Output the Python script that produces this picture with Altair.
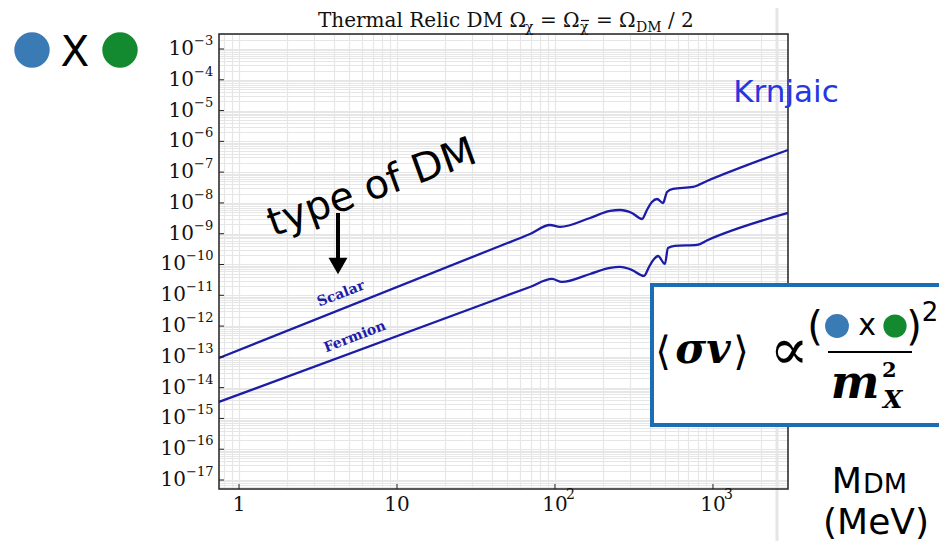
import altair as alt
import pandas as pd

# ---------------- data ----------------
scalar_mass = [0.747, 44.9, 69.5, 93.0, 107.6, 166.6, 222.8, 257.8, 306.9, 355.6,
               382.0, 411.0, 442.6, 483.0, 512.0, 558.5, 746.8, 916.0, 2985.0]
scalar_sv = [9.2e-14, 4.0e-10, 9.8e-10, 1.92e-9, 1.66e-9, 3.24e-9, 5.48e-9, 5.90e-9, 4.72e-9, 3.01e-9,
             5.90e-9, 1.07e-8, 1.34e-8, 9.96e-9, 2.27e-8, 2.84e-8, 3.30e-8, 5.16e-8, 5.25e-7]
fermion_mass = [0.747, 44.9, 69.5, 95.7, 110.7, 166.6, 222.8, 257.8, 306.9, 365.7,
                393.7, 423.6, 449.0, 496.6, 519.0, 574.0, 792.5, 929.0, 2985.0]
fermion_sv = [3.43e-15, 8.18e-12, 1.86e-11, 3.39e-11, 2.71e-11, 4.92e-11, 7.71e-11, 8.31e-11, 6.64e-11, 4.24e-11,
              8.31e-11, 1.51e-10, 1.89e-10, 1.04e-10, 3.44e-10, 4.00e-10, 4.31e-10, 6.26e-10, 4.72e-9]

x_domain = [0.747, 2985.0]
y_domain = [5.1e-18, 3.07e-3]

x_label_vals = [1, 10, 100, 1000]
x_label_base = ["1", "10", "10", "10"]
x_label_exps = ["", "", "2", "3"]

y_label_vals = [1e-3, 1e-4, 1e-5, 1e-6, 1e-7, 1e-8, 1e-9, 1e-10,
                1e-11, 1e-12, 1e-13, 1e-14, 1e-15, 1e-16, 1e-17]
y_label_exps = ["\u22123", "\u22124", "\u22125", "\u22126", "\u22127", "\u22128", "\u22129", "\u221210",
                "\u221211", "\u221212", "\u221213", "\u221214", "\u221215", "\u221216", "\u221217"]

x_grid_vals = [float(f"{m}e{k}") for k in range(-1, 4) for m in range(1, 10)
               if x_domain[0] <= float(f"{m}e{k}") <= x_domain[1]]
y_grid_vals = [float(f"{m}e{k}") for k in range(-18, -2) for m in range(1, 10)
               if y_domain[0] <= float(f"{m}e{k}") <= y_domain[1]]

# title pieces: text, page x, font size, page baseline y
title_parts = [
    ("Thermal Relic DM \u03a9", 318, 20, 27),
    ("\u03c7", 525, 14, 32),
    ("=", 540, 20, 27),
    ("\u03a9", 563, 20, 27),
    ("\u03c7", 580, 14, 32),
    ("=", 596, 20, 27),
    ("\u03a9", 619, 20, 27),
    ("DM", 636, 14, 32),
    ("/", 668, 20, 27),
    ("2", 681, 20, 27),
]

# ---------------- layout ----------------
W, H = 569, 455
PX0, PY0 = 219, 34   # page position of the plot area's top-left corner
LINE_BLUE = "#1c1ca6"
GRID = "#e6e6e6"

xs = alt.Scale(type="log", domain=x_domain, nice=False)
ys = alt.Scale(type="log", domain=y_domain, nice=False)
xaxis = alt.Axis(values=x_grid_vals, labels=False, ticks=False, domain=False, grid=True,
                 gridColor=GRID, gridWidth=1.2, title=None)
yaxis = alt.Axis(values=y_grid_vals, labels=False, ticks=False, domain=False, grid=True,
                 gridColor=GRID, gridWidth=1.2, title=None)


def X():
    return alt.X("x:Q", scale=xs, axis=xaxis)


def Y():
    return alt.Y("y:Q", scale=ys, axis=yaxis)


def P(px, py):
    return dict(x=alt.value(px - PX0), y=alt.value(py - PY0))


one = alt.Data(values=[{"k": 0}])


def text_at(s, px, py, **kw):
    return alt.Chart(one).mark_text(text=s, **kw).encode(**P(px, py))


def dot_at(px, py, size, color):
    return alt.Chart(one).mark_circle(size=size, color=color, opacity=1).encode(**P(px, py))


def hline(px1, px2, py, color="black", width=1.5):
    return alt.Chart(one).mark_rule(color=color, strokeWidth=width).encode(
        x=alt.value(px1 - PX0), x2=alt.value(px2 - PX0), y=alt.value(py - PY0))


df = pd.concat([
    pd.DataFrame({"x": scalar_mass, "y": scalar_sv, "series": "Scalar"}),
    pd.DataFrame({"x": fermion_mass, "y": fermion_sv, "series": "Fermion"}),
])

lines = alt.Chart(df).mark_line(color=LINE_BLUE, strokeWidth=2.3, interpolate="monotone").encode(
    x=X(), y=Y(), detail="series:N")

slide_line = alt.Chart(one).mark_rule(color="#e6e6e6", strokeWidth=3).encode(
    x=alt.value(777 - PX0), y=alt.value(-PY0), y2=alt.value(550 - PY0))

frame = alt.Chart(one).mark_rect(fillOpacity=0, stroke="#222222", strokeWidth=1.5).encode(
    x=alt.value(0), x2=alt.value(W), y=alt.value(0), y2=alt.value(H))

ydf = pd.DataFrame({"y": y_label_vals, "e": y_label_exps, "b": "10"})
xdf = pd.DataFrame({"x": x_label_vals, "b": x_label_base, "e": x_label_exps})

ytick = alt.Chart(ydf).mark_rule(color="#222", strokeWidth=1).encode(
    y=Y(), x=alt.value(0), x2=alt.value(5))
xtick = alt.Chart(xdf).mark_rule(color="#222", strokeWidth=1).encode(
    x=X(), y=alt.value(H), y2=alt.value(H - 5))

LABEL_FONT = "DejaVu Serif"
ybase_short = alt.Chart(ydf).transform_filter("length(datum.e) == 2").mark_text(
    font=LABEL_FONT, fontSize=20, align="right", baseline="middle", color="#111").encode(
    y=Y(), x=alt.value(-25), text="b:N")
yexp_short = alt.Chart(ydf).transform_filter("length(datum.e) == 2").mark_text(
    font=LABEL_FONT, fontSize=13, align="left", baseline="middle", dy=-8, color="#111").encode(
    y=Y(), x=alt.value(-25), text="e:N")
ybase_long = alt.Chart(ydf).transform_filter("length(datum.e) == 3").mark_text(
    font=LABEL_FONT, fontSize=20, align="right", baseline="middle", color="#111").encode(
    y=Y(), x=alt.value(-33), text="b:N")
yexp_long = alt.Chart(ydf).transform_filter("length(datum.e) == 3").mark_text(
    font=LABEL_FONT, fontSize=13, align="left", baseline="middle", dy=-8, color="#111").encode(
    y=Y(), x=alt.value(-33), text="e:N")
xbase = alt.Chart(xdf).mark_text(
    font=LABEL_FONT, fontSize=20, align="center", baseline="middle", color="#111").encode(
    x=X(), y=alt.value(471), text="b:N")
xexp = alt.Chart(xdf).mark_text(
    font=LABEL_FONT, fontSize=14, align="left", baseline="middle", dx=11, color="#111").encode(
    x=X(), y=alt.value(461), text="e:N")

title_layers = [
    text_at(t, px, py, font=LABEL_FONT, fontSize=fs, align="left", baseline="alphabetic", color="#111")
    for (t, px, fs, py) in title_parts
] + [hline(581, 589, 20.5, color="#111", width=1.2)]   # bar over the second chi

curve_labels = [
    text_at("Scalar", 341, 294, font=LABEL_FONT, fontSize=14, fontWeight="bold", angle=339,
            align="center", baseline="middle", color=LINE_BLUE),
    text_at("Fermion", 355, 337, font=LABEL_FONT, fontSize=14, fontWeight="bold", angle=339,
            align="center", baseline="middle", color=LINE_BLUE),
]

SANS = "DejaVu Sans"
annotations = [
    dot_at(32, 50, 1257, "#3a7ab5"),
    text_at("X", 75, 66, font=SANS, fontSize=42, align="center", baseline="alphabetic", color="black"),
    dot_at(120, 50, 1257, "#138a2f"),
    text_at("Krnjaic", 786, 93, font=SANS, fontSize=31, align="center", baseline="middle", color="#2636e0"),
    text_at("type of DM", 372, 188, font=SANS, fontSize=40, angle=340, align="center",
            baseline="middle", color="black"),
    alt.Chart(one).mark_rule(color="black", strokeWidth=4).encode(
        x=alt.value(338 - PX0), y=alt.value(213 - PY0), y2=alt.value(260 - PY0)),
    alt.Chart(one).mark_point(shape="triangle-down", filled=True, size=360, color="black", opacity=1).encode(
        **P(338, 266)),
    text_at("M", 862, 493, font=SANS, fontSize=35, align="right", baseline="alphabetic", color="black"),
    text_at("DM", 863, 493, font=SANS, fontSize=27, align="left", baseline="alphabetic", color="black"),
    text_at("(MeV)", 876, 534, font=SANS, fontSize=36, align="center", baseline="alphabetic", color="black"),
]

box = alt.Chart(one).mark_rect(fill="white", stroke="#1b6eb4", strokeWidth=4).encode(
    x=alt.value(652 - PX0), x2=alt.value(975 - PX0), y=alt.value(285 - PY0), y2=alt.value(425 - PY0))

SERIF = "DejaVu Serif"
formula = [
    text_at("\u27e8", 663, 353, font=SERIF, fontSize=40, align="center", baseline="middle", color="black"),
    text_at("\u03c3v", 703, 363, font=SERIF, fontSize=42, fontWeight="bold", fontStyle="italic",
            align="center", baseline="alphabetic", color="black"),
    text_at("\u27e9", 741, 353, font=SERIF, fontSize=40, align="center", baseline="middle", color="black"),
    text_at("\u221d", 789, 352, font=SERIF, fontSize=58, align="center", baseline="middle", color="black"),
    text_at("(", 815, 328, font=SANS, fontSize=40, align="center", baseline="middle", color="black"),
    dot_at(837, 326, 570, "#3a7ab5"),
    text_at("x", 867, 335, font=SANS, fontSize=30, align="center", baseline="alphabetic", color="black"),
    dot_at(895, 326, 540, "#138a2f"),
    text_at(")", 914, 328, font=SANS, fontSize=40, align="center", baseline="middle", color="black"),
    text_at("2", 930, 313, font=SANS, fontSize=26, align="center", baseline="middle", color="black"),
    hline(828, 912, 352, width=2),
    text_at("m", 855, 398, font=SERIF, fontSize=46, fontWeight="bold", fontStyle="italic",
            align="center", baseline="alphabetic", color="black"),
    text_at("2", 882, 377, font=SERIF, fontSize=21, fontWeight="bold",
            align="left", baseline="alphabetic", color="black"),
    text_at("X", 883, 408, font=SERIF, fontSize=25, fontWeight="bold", fontStyle="italic",
            align="left", baseline="alphabetic", color="black"),
]

layers = ([slide_line, lines, frame, ytick, xtick,
           ybase_short, yexp_short, ybase_long, yexp_long, xbase, xexp]
          + title_layers + curve_labels + [box] + formula + annotations)

chart = alt.layer(*layers).properties(
    width=W, height=H,
    padding={"left": PX0 - 8, "top": PY0 - 8, "right": 151, "bottom": 52},
    autosize=alt.AutoSizeParams(type="none"),
).configure_view(stroke=None)

chart.save("out.html", embed_options={"renderer": "svg", "actions": False})
